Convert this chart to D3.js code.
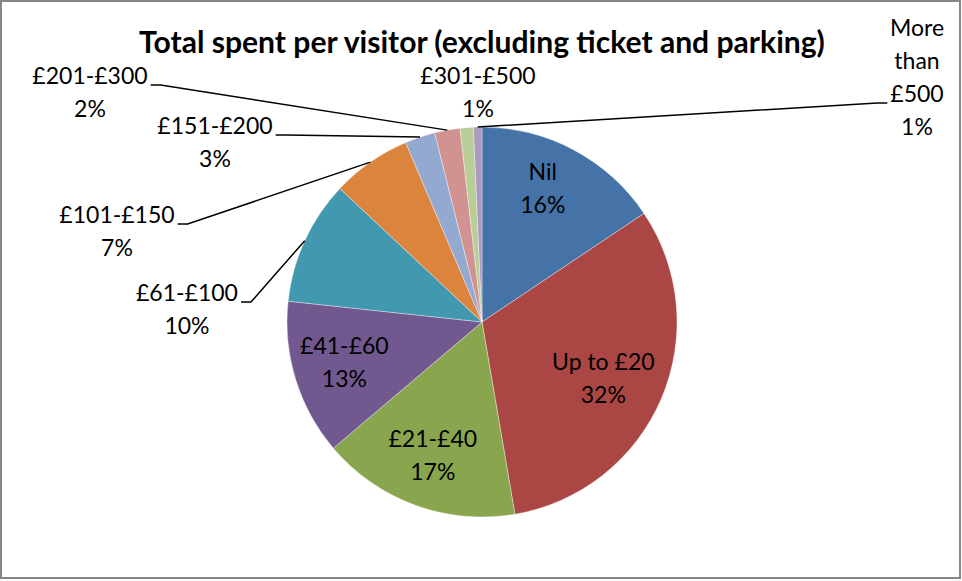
<!doctype html>
<html lang="en">
  <head>
    <meta charset="utf-8">
    <script src="https://d3js.org/d3.v7.min.js"></script>
    <title>Total spent per visitor</title>
    <style>
      body { margin: 0; background: #fff; }
      svg text { font-family: Lato, "Liberation Sans", sans-serif; fill: #000; }
    </style>
  </head>
  <body>
    <div id="chart"></div>
    <script type="text/javascript">

      // Data
      const categories = ["Nil", "Up to £20", "£21-£40", "£41-£60", "£61-£100",
                          "£101-£150", "£151-£200", "£201-£300", "£301-£500", "More than £500"];
      const shares = [15.6, 31.7, 16.5, 12.9, 10.3, 6.6, 2.5, 2.1, 1.1, 0.7];
      const colours = ["#4572A7", "#AA4643", "#89A54E", "#71588F", "#4198AF",
                       "#DB843D", "#93A9CF", "#D19392", "#B9CD96", "#A99BBD"];
      const title = "Total spent per visitor (excluding ticket and parking)";

      // Label layout (Excel placed these by hand)
      // inside labels: small nudges from the slice centroid
      const inside = {
        "Nil":       {dx: -7, dy: -4},
        "Up to £20": {dx: -11, dy: 2},
        "£21-£40":   {dx: 0, dy: 0},
        "£41-£60":   {dx: 0, dy: 0}
      };
      const outside = {
        "£201-£300":      {x: 90,  y: 78,  leader: true},
        "£151-£200":      {x: 215, y: 128, leader: true},
        "£101-£150":      {x: 117, y: 217, leader: true},
        "£61-£100":       {x: 187, y: 295, leader: true},
        "£301-£500":      {x: 478, y: 78,  leader: false},
        "More than £500": {x: 917, y: 30,  leader: true, lines: ["More", "than", "£500"]}
      };

      const W = 962, H = 581;
      const cx = 482, cy = 322, r = 195;
      const lineH = 33;

      const svg = d3.select("#chart").append("svg")
        .attr("width", W).attr("height", H);

      // chart border
      svg.append("rect")
        .attr("x", 1).attr("y", 1).attr("width", W - 3).attr("height", H - 4)
        .attr("fill", "#fff").attr("stroke", "#868686").attr("stroke-width", 2);

      // title, fitted to the width it has in the picture
      const t = svg.append("text")
        .attr("x", cx).attr("y", 45)
        .attr("text-anchor", "middle").attr("dominant-baseline", "middle")
        .style("font-weight", "bold").style("font-size", "24px")
        .text(title);
      const tw = t.node().getComputedTextLength();
      t.style("font-size", (24 * 686 / tw) + "px");

      const data = categories.map((c, i) => ({name: c, value: shares[i], colour: colours[i]}));
      const pie = d3.pie().sort(null).value(d => d.value);
      const arcs = pie(data);
      const arc = d3.arc().innerRadius(0).outerRadius(r);

      const g = svg.append("g").attr("transform", "translate(" + cx + "," + cy + ")");
      g.selectAll("path")
        .data(arcs)
        .enter()
        .append("path")
          .attr("d", arc)
          .attr("fill", d => d.data.colour)
          .attr("stroke", "#ffffff")
          .attr("stroke-opacity", 0.6)
          .attr("stroke-width", 0.6);

      const fs = 23;
      const pct = d => Math.round(d.data.value) + "%";

      // labels inside the slices
      const inArc = d3.arc().innerRadius(144).outerRadius(144);
      arcs.filter(d => d.data.name in inside).forEach(d => {
        const c = inArc.centroid(d);
        const x = c[0] + inside[d.data.name].dx, y = c[1] + inside[d.data.name].dy;
        const lt = g.append("text")
          .attr("text-anchor", "middle")
          .style("font-size", fs + "px");
        lt.append("tspan").attr("x", x).attr("y", y - lineH / 2)
          .attr("dominant-baseline", "middle").text(d.data.name);
        lt.append("tspan").attr("x", x).attr("y", y + lineH / 2)
          .attr("dominant-baseline", "middle").text(pct(d));
      });

      // labels outside, with leader lines
      arcs.filter(d => d.data.name in outside).forEach(d => {
        const p = outside[d.data.name];
        const lines = (p.lines || [d.data.name]).concat([pct(d)]);
        const lt = svg.append("text")
          .attr("text-anchor", "middle")
          .style("font-size", fs + "px");
        lines.forEach((s, i) => {
          lt.append("tspan").attr("x", p.x).attr("y", p.y + i * lineH)
            .attr("dominant-baseline", "middle").text(s);
        });
        if (!p.leader) return;

        const mid = (d.startAngle + d.endAngle) / 2;
        const ex = cx + r * Math.sin(mid), ey = cy - r * Math.cos(mid);
        // attach to the line just above the percentage
        const row = lines.length - 2;
        const tsp = lt.selectAll("tspan").nodes()[row];
        const half = tsp.getComputedTextLength() / 2;
        const sy = p.y + row * lineH + 7;
        let pts;
        if (p.x < cx) {
          const sx = p.x + half + 3;
          pts = [[sx, sy], [sx + 10, sy], [ex, ey]];
        } else {
          const sx = p.x - half - 3;
          pts = [[sx, sy], [sx - 10, sy], [ex, ey]];
        }
        svg.append("path")
          .attr("d", d3.line()(pts))
          .attr("fill", "none")
          .attr("stroke", "#000")
          .attr("stroke-width", 1.5);
      });
    </script>
  </body>
</html>
